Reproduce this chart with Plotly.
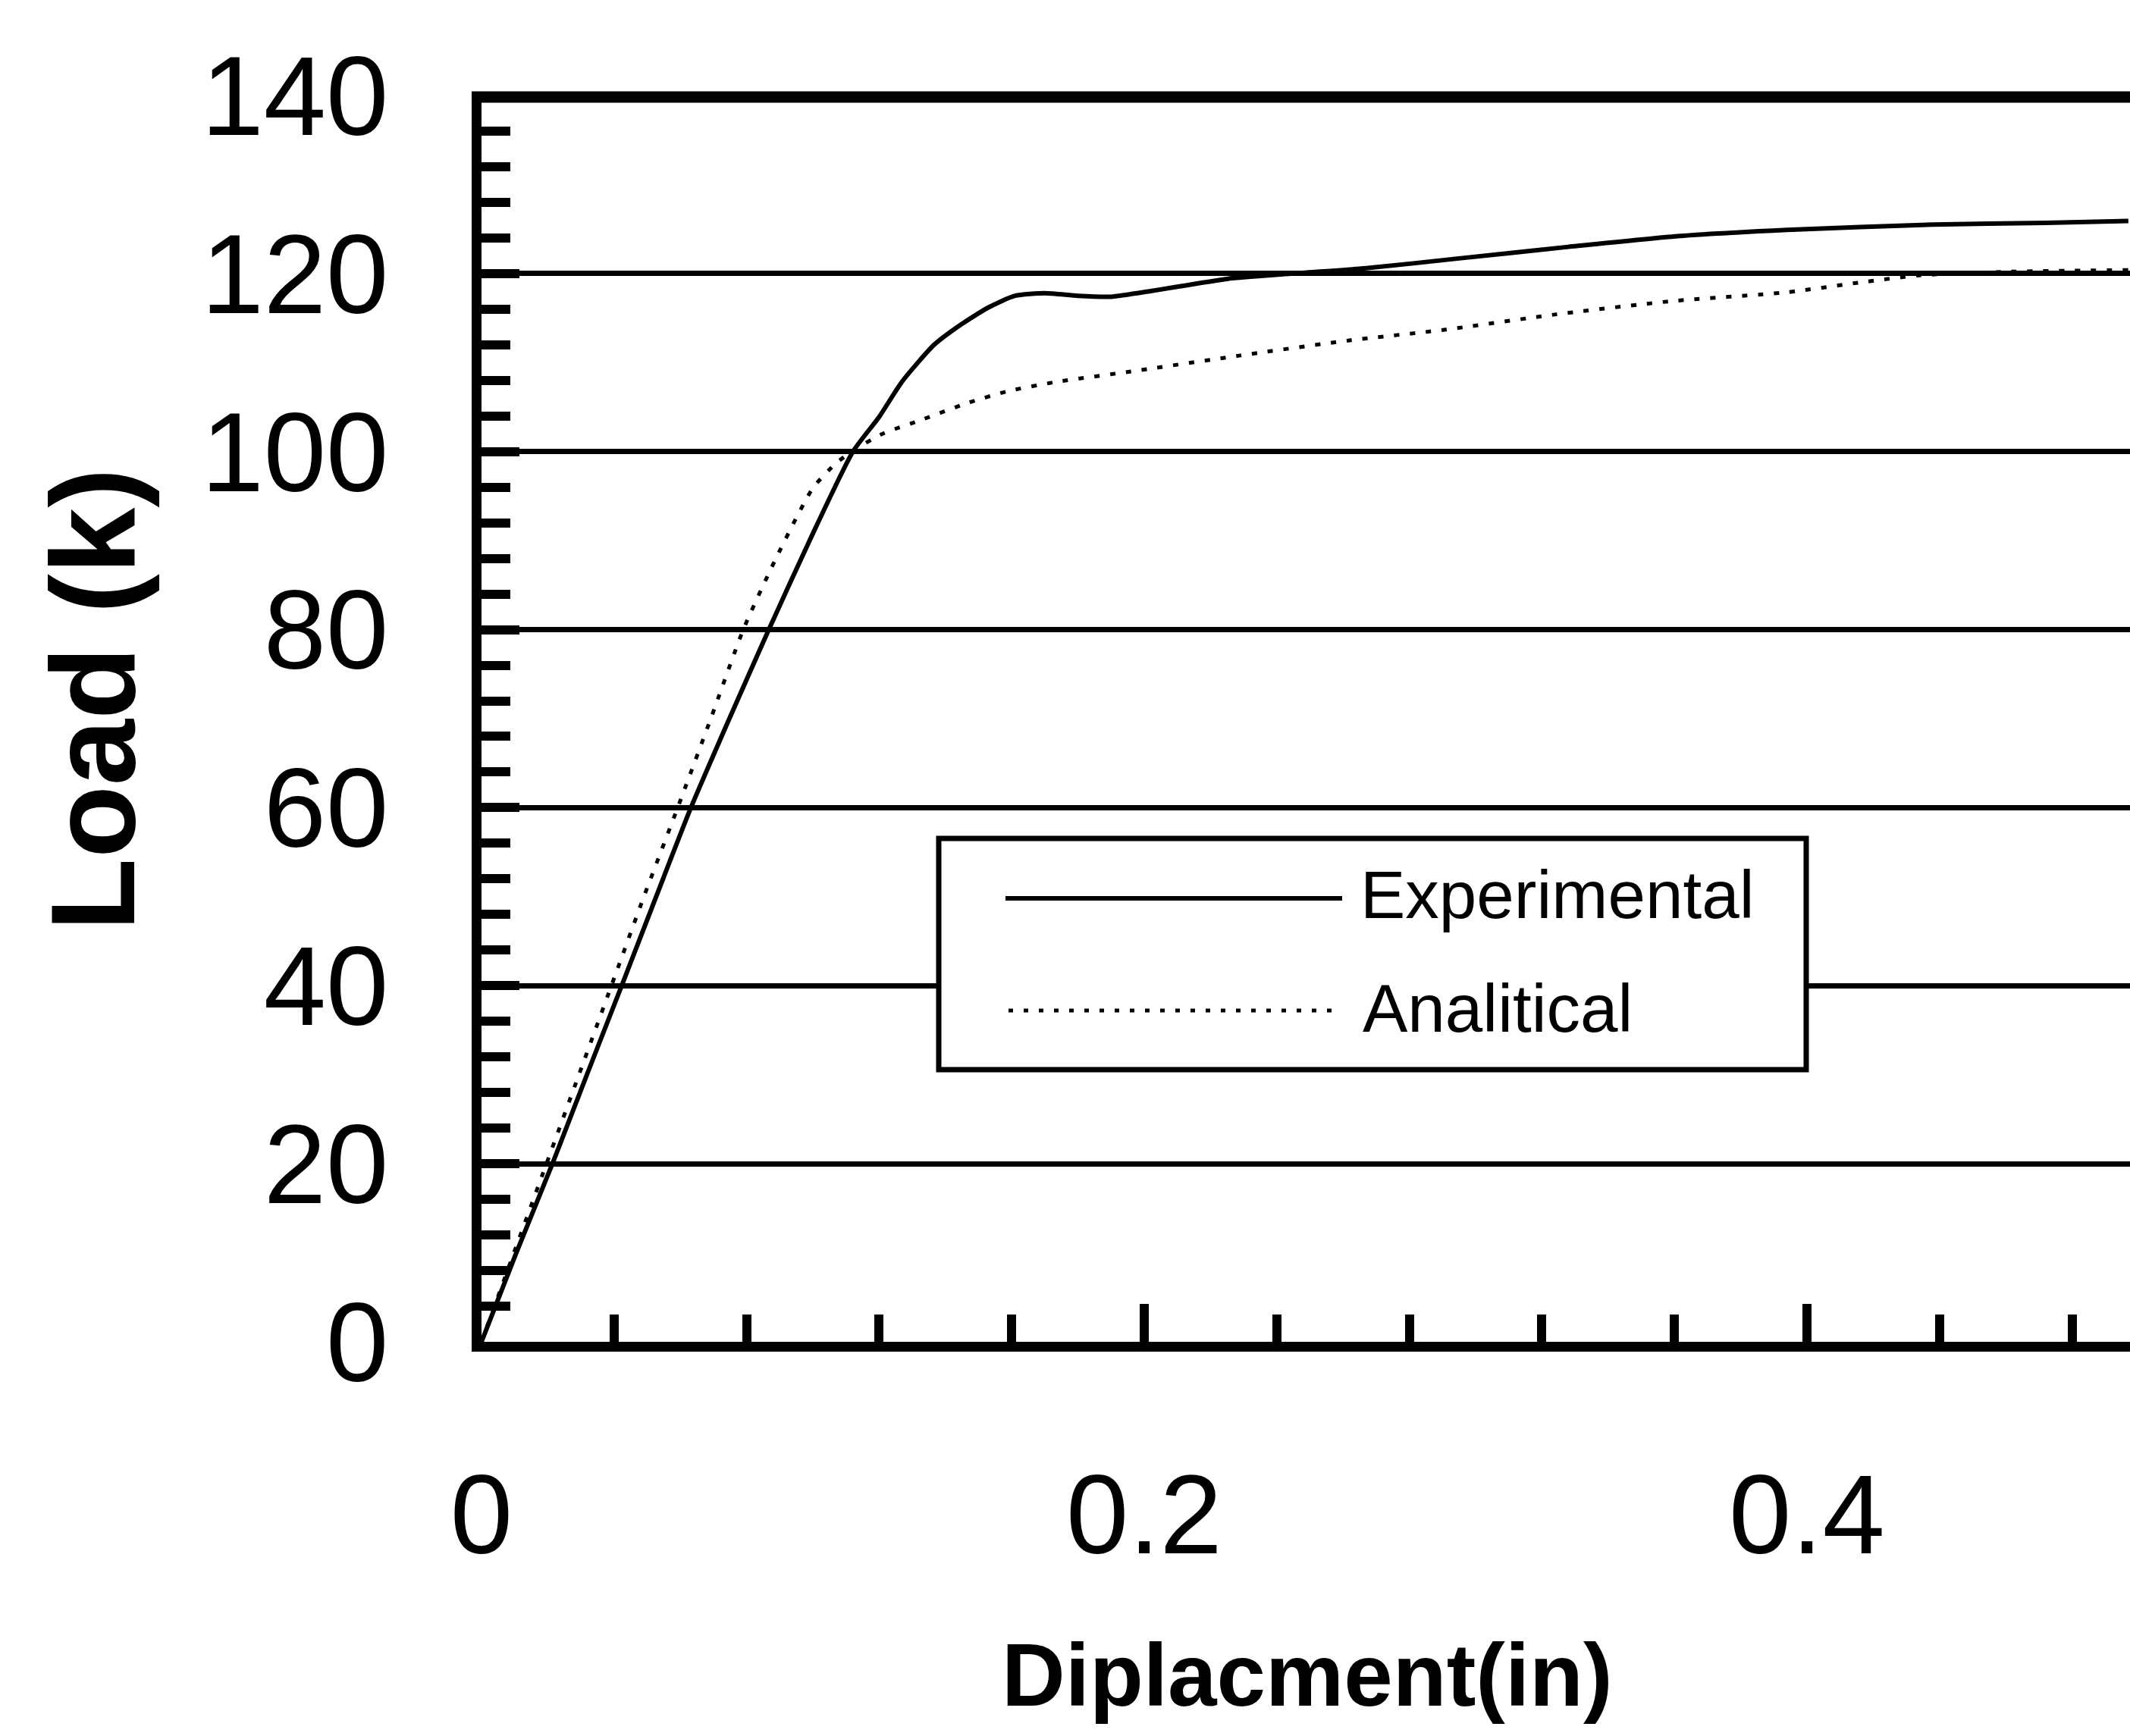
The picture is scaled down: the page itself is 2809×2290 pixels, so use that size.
import plotly.graph_objects as go

# ---------------- data ----------------
exp_x = [0.0, 0.0105, 0.0214, 0.0318, 0.0423, 0.0527, 0.0632, 0.0748, 0.0867, 0.0990,
         0.1121, 0.1200, 0.1270, 0.1366, 0.1444, 0.1530, 0.1610, 0.1700, 0.1800, 0.1900,
         0.2030, 0.2250, 0.2450, 0.2670, 0.2950, 0.3280, 0.3610, 0.3940, 0.4380, 0.4720,
         0.4970]
exp_y = [0.0, 10.0, 20.0, 30.0, 40.0, 50.0, 60.0, 70.0, 80.0, 90.0,
         100.0, 103.9, 107.9, 112.0, 114.2, 116.2, 117.5, 117.8, 117.5, 117.4,
         118.1, 119.4, 120.0, 120.6, 121.7, 123.0, 124.2, 124.9, 125.5, 125.7,
         125.9]

ana_x = [0.0, 0.0098, 0.0196, 0.0294, 0.0392, 0.0490, 0.0592, 0.0692, 0.0790, 0.0886,
         0.1000, 0.1070, 0.1130, 0.1210, 0.1330, 0.1470, 0.1590, 0.1730, 0.1960, 0.2290,
         0.2620, 0.2910, 0.3240, 0.3590, 0.3940, 0.4160, 0.4340, 0.4600, 0.4970]
ana_y = [0.0, 10.0, 20.0, 30.0, 40.0, 50.0, 60.0, 70.0, 80.0, 87.8,
         95.9, 98.7, 100.3, 102.0, 103.6, 105.5, 106.8, 107.8, 109.0, 110.8,
         112.5, 113.7, 115.4, 116.9, 117.9, 119.0, 119.8, 120.2, 120.4]

series_names = ["Experimental", "Analitical"]
x_tick_vals = [0, 0.2, 0.4]
x_tick_text = ["0", "0.2", "0.4"]
y_tick_vals = [0, 20, 40, 60, 80, 100, 120, 140]
y_tick_text = ["0", "20", "40", "60", "80", "100", "120", "140"]
x_title = "Diplacment(in)"
y_title = "Load (k)"

# ---------------- layout geometry (pixels) ----------------
W, H = 2809, 2290
L, R, T, B = 635, 2809, 126, 1770
PW, PH = R - L, B - T


def pxx(p):
    return (p - L) / PW


def pxy(p):
    return (B - p) / PH


FONT = "Liberation Sans, Arial, Helvetica, sans-serif"

fig = go.Figure()
fig.add_trace(go.Scatter(x=exp_x, y=exp_y, mode="lines", name=series_names[0],
                         line=dict(color="black", width=6, shape="spline", smoothing=0.6),
                         showlegend=False))
fig.add_trace(go.Scatter(x=ana_x, y=ana_y, mode="lines", name=series_names[1],
                         line=dict(color="black", width=5, dash="7px,14px",
                                   shape="spline", smoothing=0.6),
                         showlegend=False))

fig.update_layout(
    template="none",
    width=W, height=H,
    margin=dict(l=L, r=W - R, t=T, b=H - B, pad=0),
    paper_bgcolor="white", plot_bgcolor="white",
    showlegend=False,
    xaxis=dict(
        range=[0, 0.4975], automargin=False,
        showgrid=False, zeroline=False,
        showline=True, linecolor="black", linewidth=13,
        tickmode="array", tickvals=x_tick_vals, ticktext=x_tick_text,
        ticks="inside", ticklen=50, tickwidth=12, tickcolor="black",
        tickfont=dict(family=FONT, size=148, color="black"),
        ticklabelstandoff=88,
        minor=dict(tickmode="linear", tick0=0, dtick=0.04, ticks="inside",
                   ticklen=36, tickwidth=12, tickcolor="black", showgrid=False),
    ),
    yaxis=dict(
        range=[0, 140], automargin=False,
        showgrid=True, gridcolor="black", gridwidth=7,
        zeroline=False,
        showline=True, linecolor="black", linewidth=13,
        tickmode="array", tickvals=y_tick_vals, ticktext=y_tick_text,
        ticks="inside", ticklen=50, tickwidth=12, tickcolor="black",
        tickfont=dict(family=FONT, size=148, color="black"),
        ticklabelstandoff=80,
        minor=dict(tickmode="linear", tick0=0, dtick=4, ticks="inside",
                   ticklen=38, tickwidth=12, tickcolor="black", showgrid=False),
    ),
)

shapes = [
    # top border of the plot frame
    dict(type="line", xref="paper", yref="paper", x0=pxx(622), x1=1.0,
         y0=pxy(128), y1=pxy(128), line=dict(color="black", width=15), layer="above"),
    # legend box
    dict(type="rect", xref="paper", yref="paper", x0=pxx(1238), x1=pxx(2382),
         y0=pxy(1411), y1=pxy(1106), line=dict(color="black", width=7),
         fillcolor="white", layer="above"),
    # legend samples
    dict(type="line", xref="paper", yref="paper", x0=pxx(1326), x1=pxx(1770),
         y0=pxy(1185), y1=pxy(1185), line=dict(color="black", width=6), layer="above"),
    dict(type="line", xref="paper", yref="paper", x0=pxx(1330), x1=pxx(1762),
         y0=pxy(1333), y1=pxy(1333), line=dict(color="black", width=5, dash="6px,14px"),
         layer="above"),
]
fig.update_layout(shapes=shapes)

annotations = [
    dict(text=series_names[0], xref="paper", yref="paper", x=pxx(1792), y=pxy(1180),
         xanchor="left", yanchor="middle", showarrow=False,
         font=dict(family=FONT, size=89, color="black")),
    dict(text=series_names[1], xref="paper", yref="paper", x=pxx(1795), y=pxy(1330),
         xanchor="left", yanchor="middle", showarrow=False,
         font=dict(family=FONT, size=89, color="black")),
    dict(text="<b>" + y_title + "</b>", xref="paper", yref="paper", x=pxx(122), y=pxy(923),
         xanchor="center", yanchor="middle", textangle=-90, showarrow=False,
         font=dict(family=FONT, size=157, color="black")),
    dict(text="<b>" + x_title + "</b>", xref="paper", yref="paper", x=pxx(1724), y=pxy(2210),
         xanchor="center", yanchor="middle", showarrow=False,
         font=dict(family=FONT, size=116, color="black")),
]
fig.update_layout(annotations=annotations)

fig.write_html("out.html")
